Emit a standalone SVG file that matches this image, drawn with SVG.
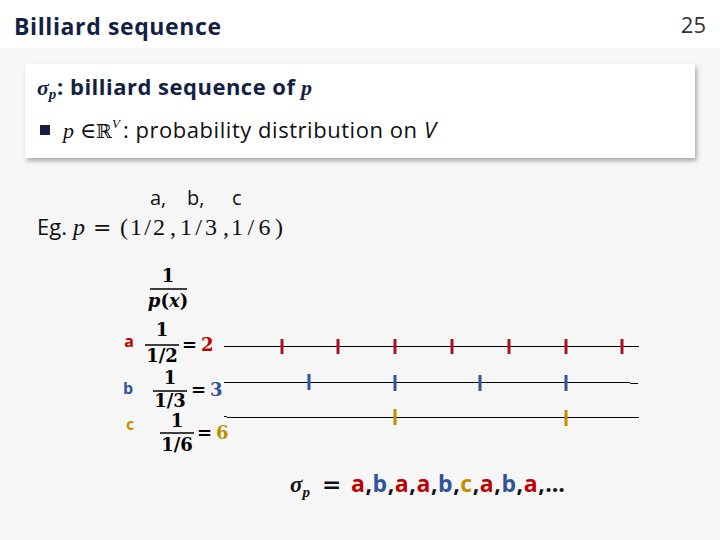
<svg xmlns="http://www.w3.org/2000/svg" width="720" height="540" viewBox="0 0 720 540">
<defs>
<filter id="sh" x="-5%" y="-10%" width="110%" height="130%"><feDropShadow dx="2" dy="3" stdDeviation="2" flood-color="#000" flood-opacity="0.3"/></filter>
</defs>
<style>
.ui{font-family:"Open Sans","Noto Sans","Liberation Sans",sans-serif}
.m{font-family:"Liberation Serif","DejaVu Serif",serif}
.dm{font-family:"DejaVu Serif","Liberation Serif",serif}
.mi{font-family:"Liberation Serif","DejaVu Serif",serif;font-style:italic}
.fr{font-family:"DejaVu Serif","Liberation Serif",serif;font-weight:bold;font-size:18px;text-anchor:middle}
.eq{font-family:"DejaVu Serif","Liberation Serif",serif;font-weight:bold;font-size:18px}
.bar{stroke:#000;stroke-width:1.3}
.line{stroke:#000;stroke-width:1}
.ta{stroke:#b0101c;stroke-width:3}
.tb{stroke:#2f5597;stroke-width:3}
.tc{stroke:#bf9000;stroke-width:3}
.red{fill:#c00000}.blue{fill:#2f5597}.gold{fill:#bf9000}
</style>
<rect width="720" height="540" fill="#f6f6f6"/>
<rect width="720" height="48" fill="#ffffff"/>
<text class="ui" x="14" y="35" font-size="23" font-weight="bold" fill="#141f45" textLength="207">Billiard sequence</text>
<text class="ui" x="706" y="33" font-size="22" fill="#333" text-anchor="end">25</text>
<g id="box">
<rect x="25" y="64" width="670" height="94" fill="#fff" filter="url(#sh)"/>
<text x="37" y="95" font-size="22" font-weight="bold" fill="#141f45"><tspan class="mi">σ</tspan><tspan class="mi" font-size="15" dy="4">p</tspan><tspan class="ui" dy="-4" x="57" textLength="238">: billiard sequence of</tspan><tspan class="mi" x="301">p</tspan></text>
<rect x="40" y="125" width="10" height="10" fill="#141f45"/>
<text y="138" font-size="22" fill="#111"><tspan class="mi" x="63">p</tspan><tspan class="m" x="80">∈</tspan><tspan class="dm" x="96" font-size="19">ℝ</tspan></text>
<text class="mi" x="112" y="128" font-size="13" fill="#111">V</text>
<text class="ui" x="123" y="138" font-size="22" fill="#111"><tspan textLength="294">: probability distribution on</tspan><tspan font-style="italic" x="424">V</tspan></text>
</g>
<g id="example">
<text class="ui" font-size="20" fill="#111" y="205"><tspan x="150">a,</tspan><tspan x="187">b,</tspan><tspan x="232">c</tspan></text>
<text font-size="24" fill="#111" y="235"><tspan class="ui" x="37" font-size="22">Eg.</tspan><tspan class="mi" x="73">p</tspan><tspan class="dm" x="93" font-size="22">=</tspan><tspan class="m" x="120" textLength="45">(1/2</tspan><tspan class="m" x="170">,</tspan><tspan class="m" x="180" textLength="37">1/3</tspan><tspan class="m" x="223">,</tspan><tspan class="m" x="231" textLength="52">1/6)</tspan></text>
</g>
<g id="header-frac">
<text class="fr" x="168" y="282">1</text>
<line class="bar" x1="150" y1="289" x2="187" y2="289"/>
<text class="fr" x="168" y="307"><tspan font-style="italic">p</tspan>(<tspan font-style="italic">x</tspan>)</text>
</g>
<g id="row-a">
<text class="ui red" x="129" y="347" font-size="16" font-weight="bold" text-anchor="middle">a</text>
<text class="fr" x="162" y="336">1</text>
<line class="bar" x1="145" y1="345" x2="179" y2="345"/>
<text class="fr" x="162" y="362">1/2</text>
<text class="eq" x="182" y="351">=</text>
<text class="eq red" x="201" y="351">2</text>
</g>
<g id="row-b">
<text class="ui blue" x="128" y="394" font-size="16" font-weight="bold" text-anchor="middle">b</text>
<text class="fr" x="170" y="384">1</text>
<line class="bar" x1="153" y1="391" x2="187" y2="391"/>
<text class="fr" x="170" y="407">1/3</text>
<text class="eq" x="191" y="396">=</text>
<text class="eq blue" x="210" y="396">3</text>
</g>
<g id="row-c">
<text class="ui gold" x="130" y="430" font-size="16" font-weight="bold" text-anchor="middle">c</text>
<text class="fr" x="177" y="427">1</text>
<line class="bar" x1="160" y1="433" x2="194" y2="433"/>
<text class="fr" x="177" y="451">1/6</text>
<text class="eq" x="197" y="439">=</text>
<text class="eq gold" x="216" y="439">6</text>
</g>
<g id="connectors">
<line class="line" x1="224" y1="346.5" x2="639" y2="346.5"/>
<line class="line" x1="224" y1="382.5" x2="630" y2="382.5"/>
<line class="line" x1="630" y1="383.5" x2="638" y2="383.5"/>
<line class="line" x1="227" y1="417.5" x2="639" y2="417.5"/>
<line class="line" x1="224" y1="416.5" x2="227" y2="416.5"/>
</g>
<g id="ticks-a">
<line class="ta" x1="282" y1="339" x2="282" y2="354"/>
<line class="ta" x1="338" y1="339" x2="338" y2="354"/>
<line class="ta" x1="395" y1="339" x2="395" y2="354"/>
<line class="ta" x1="452" y1="339" x2="452" y2="354"/>
<line class="ta" x1="509" y1="339" x2="509" y2="354"/>
<line class="ta" x1="566" y1="339" x2="566" y2="354"/>
<line class="ta" x1="622" y1="339" x2="622" y2="354"/>
</g>
<g id="ticks-b">
<line class="tb" x1="309" y1="374" x2="309" y2="390"/>
<line class="tb" x1="395" y1="375" x2="395" y2="391"/>
<line class="tb" x1="480" y1="375" x2="480" y2="391"/>
<line class="tb" x1="566" y1="375" x2="566" y2="391"/>
</g>
<g id="ticks-c">
<line class="tc" x1="395" y1="409" x2="395" y2="425"/>
<line class="tc" x1="566" y1="410" x2="566" y2="426"/>
</g>
<g id="sequence">
<text y="492" font-size="23" font-weight="bold" fill="#111"><tspan class="mi" x="290">σ</tspan><tspan class="mi" font-size="15" dy="5">p</tspan><tspan class="dm" dy="-5" x="322">=</tspan><tspan x="351" textLength="214"><tspan class="ui red">a</tspan><tspan class="ui">,</tspan><tspan class="ui blue">b</tspan><tspan class="ui">,</tspan><tspan class="ui red">a</tspan><tspan class="ui">,</tspan><tspan class="ui red">a</tspan><tspan class="ui">,</tspan><tspan class="ui blue">b</tspan><tspan class="ui">,</tspan><tspan class="ui gold">c</tspan><tspan class="ui">,</tspan><tspan class="ui red">a</tspan><tspan class="ui">,</tspan><tspan class="ui blue">b</tspan><tspan class="ui">,</tspan><tspan class="ui red">a</tspan><tspan class="ui">,…</tspan></tspan></text>
</g>
</svg>
